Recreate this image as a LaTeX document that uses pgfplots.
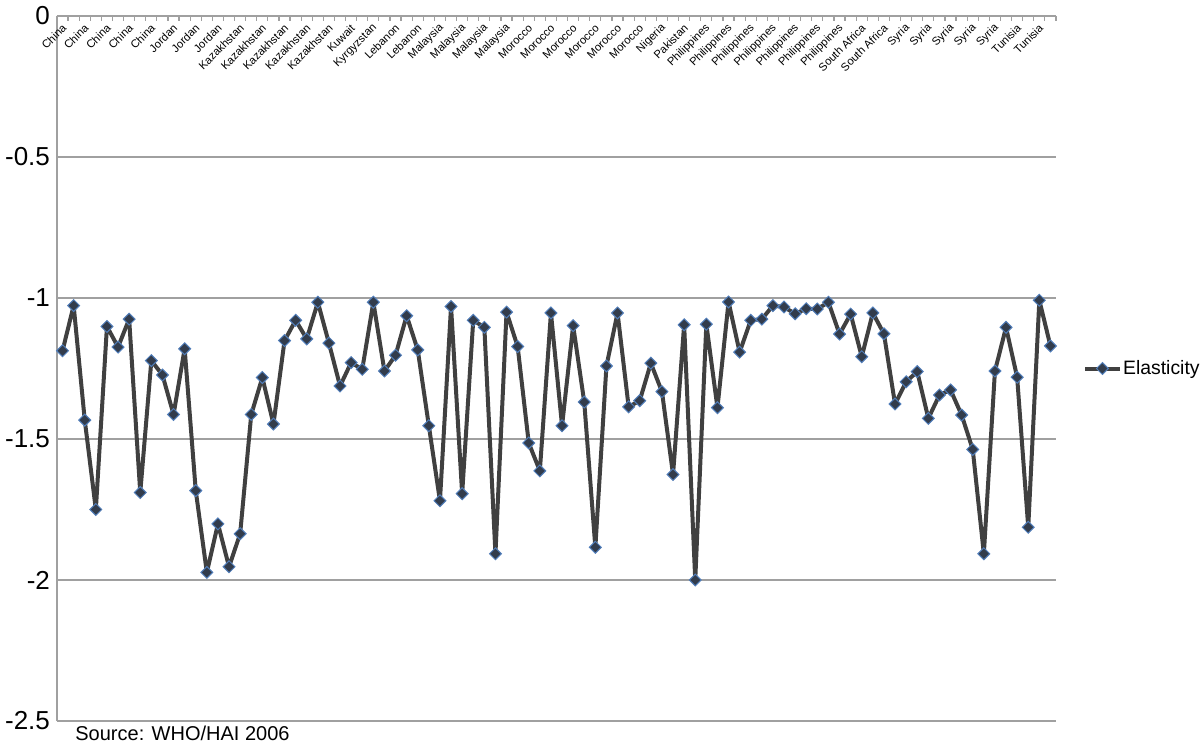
\documentclass[border=0pt]{standalone}
\usepackage{pgfplots}
\pgfplotsset{compat=1.18}
\usepackage{fontspec}
\setmainfont{Liberation Sans}
\definecolor{gridgray}{RGB}{160,160,160}
\definecolor{linegray}{RGB}{64,64,64}
\definecolor{mkfill}{RGB}{50,60,76}
\definecolor{mkedge}{RGB}{80,125,185}
\pgfplotstableread{
x y
1 -1.187
2 -1.027
3 -1.433
4 -1.750
5 -1.101
6 -1.174
7 -1.075
8 -1.690
9 -1.222
10 -1.273
11 -1.413
12 -1.180
13 -1.683
14 -1.973
15 -1.801
16 -1.953
17 -1.836
18 -1.413
19 -1.282
20 -1.447
21 -1.151
22 -1.079
23 -1.145
24 -1.015
25 -1.160
26 -1.312
27 -1.229
28 -1.253
29 -1.015
30 -1.259
31 -1.203
32 -1.063
33 -1.184
34 -1.453
35 -1.719
36 -1.030
37 -1.694
38 -1.079
39 -1.104
40 -1.907
41 -1.050
42 -1.172
43 -1.514
44 -1.613
45 -1.053
46 -1.453
47 -1.098
48 -1.369
49 -1.884
50 -1.241
51 -1.053
52 -1.386
53 -1.364
54 -1.231
55 -1.332
56 -1.626
57 -1.095
58 -2.000
59 -1.093
60 -1.389
61 -1.014
62 -1.192
63 -1.079
64 -1.075
65 -1.027
66 -1.032
67 -1.056
68 -1.038
69 -1.039
70 -1.015
71 -1.128
72 -1.057
73 -1.208
74 -1.053
75 -1.127
76 -1.376
77 -1.297
78 -1.261
79 -1.427
80 -1.344
81 -1.326
82 -1.415
83 -1.537
84 -1.907
85 -1.259
86 -1.104
87 -1.281
88 -1.813
89 -1.008
90 -1.170
}\elasticity
\begin{document}
\begin{tikzpicture}
\begin{axis}[
  at={(28.5pt,12pt)}, anchor=south west,
  scale only axis, width=499.5pt, height=352.5pt,
  xmin=0.5, xmax=90.5, ymin=-2.5, ymax=0,
  axis x line*=top, axis y line*=left,
  axis line style={gridgray, line width=0.9pt},
  xtick={1,3,...,89},
  xticklabels={China,China,China,China,China,Jordan,Jordan,Jordan,Kazakhstan,Kazakhstan,Kazakhstan,Kazakhstan,Kazakhstan,Kuwait,Kyrgyzstan,Lebanon,Lebanon,Malaysia,Malaysia,Malaysia,Malaysia,Morocco,Morocco,Morocco,Morocco,Morocco,Morocco,Nigeria,Pakistan,Philippines,Philippines,Philippines,Philippines,Philippines,Philippines,Philippines,South Africa,South Africa,Syria,Syria,Syria,Syria,Syria,Tunisia,Tunisia},
  minor xtick={0.5,1.5,...,90.5},
  major x tick style={draw=none},
  minor x tick style={gridgray, line width=0.6pt},
  minor tick length=2.5pt,
  tick align=inside,
  xticklabel style={font=\fontsize{5.6}{6}\selectfont, yshift=-5pt, xshift=1pt, rotate=45, anchor=east, inner sep=0pt},
  ytick={-2.5,-2,-1.5,-1,-0.5,0},
  yticklabels={-2.5,-2,-1.5,-1,-0.5,0},
  ytick style={draw=none},
  yticklabel style={font=\fontsize{13}{15}\selectfont, anchor=east},
  ymajorgrids,
  major grid style={gridgray, line width=0.7pt},
  legend style={at={(1.027,0.5)}, anchor=west, draw=none, fill=none, inner sep=0pt,
    font=\fontsize{9.7}{12}\selectfont, nodes={inner sep=0.8pt}},
  legend cell align=left,
]
\addplot[color=linegray, line width=2pt, line join=round, mark=square*, mark size=2.1pt,
  mark options={rotate=45, fill=mkfill, draw=mkedge, line width=0.5pt, solid, line join=miter}]
  table[x=x, y=y] {\elasticity};
\addlegendentry{Elasticity}
\end{axis}
\node[anchor=west, font=\fontsize{10}{12}\selectfont, inner sep=0pt] at (37.5pt,6pt) {Source: WHO/HAI 2006};
\pgfresetboundingbox
\path[use as bounding box] (0,0) rectangle (600pt,372.5pt);
\end{tikzpicture}
\end{document}
